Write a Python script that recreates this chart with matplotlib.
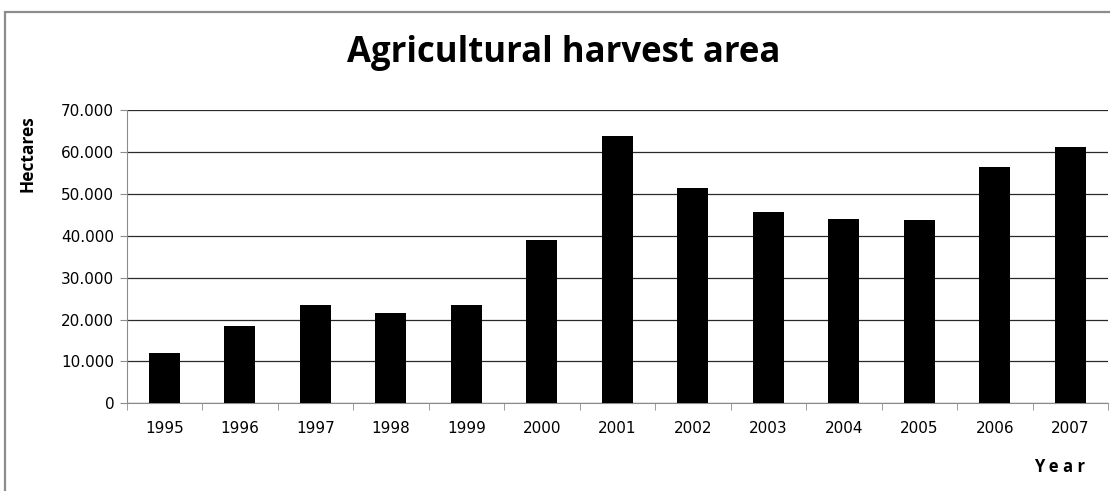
import numpy as np
import matplotlib
matplotlib.use("Agg")
import matplotlib.pyplot as plt
from matplotlib.patches import Rectangle

# Data
years = ["1995", "1996", "1997", "1998", "1999", "2000", "2001",
         "2002", "2003", "2004", "2005", "2006", "2007"]
hectares = [12000, 18400, 23400, 21500, 23400, 39000, 63800,
            51300, 45700, 44000, 43700, 56400, 61200]
yticks = [0, 10000, 20000, 30000, 40000, 50000, 60000, 70000]
ytick_labels = ["0", "10.000", "20.000", "30.000", "40.000",
                "50.000", "60.000", "70.000"]

W, H = 1110, 491
fig = plt.figure(figsize=(W / 100, H / 100), dpi=100)

# outer chart frame (runs past the right and bottom edges)
fig.patches.append(Rectangle((5 / W, -0.1), 1.2, 1.1 - 12 / H,
                             transform=fig.transFigure, fill=False,
                             edgecolor="#8c8c8c", linewidth=1.6))

ax = fig.add_axes([126.7 / W, (H - 403.3) / H, (1108 - 126.7) / W, (403.3 - 110) / H])

x = np.arange(len(years))
ax.bar(x, hectares, width=0.41, color="black", zorder=3)

ax.set_xlim(-0.5, len(years) - 0.5)
ax.set_ylim(0, 70000)
ax.set_yticks(yticks)
ax.set_yticklabels(ytick_labels, fontsize=11)
ax.set_xticks(x)
ax.set_xticklabels(years, fontsize=11)
ax.tick_params(axis="x", length=0, pad=13)
ax.set_xticks(np.arange(len(years) + 1) - 0.5, minor=True)
ax.tick_params(axis="x", which="minor", length=5, color="#8c8c8c")
ax.tick_params(axis="y", length=5, color="#8c8c8c", pad=4)

ax.grid(axis="y", color="#2a2a2a", linewidth=0.9, zorder=0)
ax.axhline(70000, color="#8c8c8c", linewidth=1.2, zorder=1)
for side in ["top", "right"]:
    ax.spines[side].set_visible(False)
ax.spines["left"].set_color("#8c8c8c")
ax.spines["bottom"].set_color("#8c8c8c")

fig.text(564 / W, (H - 53) / H, "Agricultural harvest area", ha="center", va="center",
         fontsize=25, fontweight="bold", family="Open Sans")
fig.text(27 / W, (H - 154) / H, "Hectares", rotation=90, ha="center", va="center",
         fontsize=12.5, fontweight="bold", family="Open Sans")
fig.text(1060 / W, (H - 467) / H, "Y e a r", ha="center", va="center",
         fontsize=12, fontweight="bold", family="Open Sans")

fig.savefig("out.png", dpi=100)
